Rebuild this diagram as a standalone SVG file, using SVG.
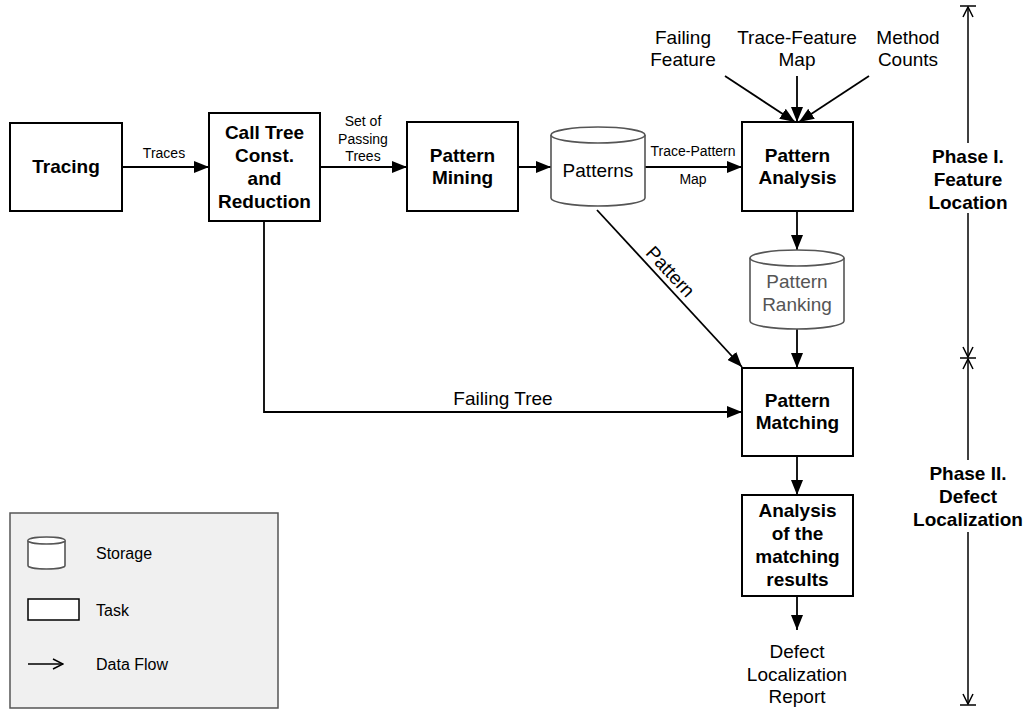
<svg xmlns="http://www.w3.org/2000/svg" width="1027" height="709" viewBox="0 0 1027 709">
  <style>
    .box { fill: #ffffff; stroke: #000000; stroke-width: 2; }
    .store { fill: #ffffff; stroke: #555555; stroke-width: 1.6; }
    .edge { fill: none; stroke: #000000; stroke-width: 1.8; }
    .thin { fill: none; stroke: #000000; stroke-width: 1.5; }
    text { font-family: "Liberation Sans", Arial, sans-serif; fill: #000000; text-anchor: middle; }
    .b { font-size: 19px; font-weight: bold; }
    .r { font-size: 19px; }
    .s { font-size: 14px; }
    .g { fill: #555555; }
    .l { text-anchor: start; font-size: 16px; }
  </style>
  <defs>
    <marker id="arrow" viewBox="0 0 15 12" refX="15" refY="6" markerWidth="15" markerHeight="12" markerUnits="userSpaceOnUse" orient="auto">
      <path d="M0,0 L15,6 L0,12 z" fill="#000000"/>
    </marker>
    <marker id="open" viewBox="0 0 12 12" refX="11" refY="6" markerWidth="12" markerHeight="12" markerUnits="userSpaceOnUse" orient="auto">
      <path d="M1,1 L11,6 L1,11" fill="none" stroke="#000000" stroke-width="1.5"/>
    </marker>
  </defs>

  <!-- data flow connectors -->
  <g id="connectors">
    <line class="edge" x1="122" y1="167" x2="209" y2="167" marker-end="url(#arrow)"/>
    <line class="edge" x1="320" y1="167" x2="407" y2="167" marker-end="url(#arrow)"/>
    <line class="edge" x1="518" y1="167" x2="551" y2="167" marker-end="url(#arrow)"/>
    <line class="edge" x1="645" y1="167" x2="742" y2="167" marker-end="url(#arrow)"/>
    <line class="edge" x1="725" y1="76" x2="795" y2="122" marker-end="url(#arrow)"/>
    <line class="edge" x1="797" y1="76" x2="797" y2="122" marker-end="url(#arrow)"/>
    <line class="edge" x1="869" y1="76" x2="799" y2="122" marker-end="url(#arrow)"/>
    <line class="edge" x1="797" y1="211" x2="797" y2="250" marker-end="url(#arrow)"/>
    <line class="edge" x1="797" y1="329" x2="797" y2="368" marker-end="url(#arrow)"/>
    <line class="edge" x1="597" y1="210" x2="742" y2="367" marker-end="url(#arrow)"/>
    <polyline class="edge" points="264,221 264,412 742,412" marker-end="url(#arrow)"/>
    <line class="edge" x1="797" y1="456" x2="797" y2="495" marker-end="url(#arrow)"/>
    <line class="edge" x1="797" y1="596" x2="797" y2="630" marker-end="url(#arrow)"/>

    <text class="s" x="164" y="158">Traces</text>
    <text class="s" x="363" y="126">Set of</text>
    <text class="s" x="363" y="144">Passing</text>
    <text class="s" x="363" y="161">Trees</text>
    <text class="s" x="693" y="156">Trace-Pattern</text>
    <text class="s" x="693" y="184">Map</text>
    <text class="r" x="503" y="405">Failing Tree</text>
    <text class="r" transform="translate(670,272) rotate(47.3)" y="6">Pattern</text>
  </g>

  <!-- inputs to pattern analysis -->
  <g id="inputs">
    <text class="r" x="683" y="44">Failing</text>
    <text class="r" x="683" y="66">Feature</text>
    <text class="r" x="797" y="44">Trace-Feature</text>
    <text class="r" x="797" y="66">Map</text>
    <text class="r" x="908" y="44">Method</text>
    <text class="r" x="908" y="66">Counts</text>
  </g>

  <g id="tracing">
    <rect class="box" x="10" y="123" width="112" height="88"/>
    <text class="b" x="66" y="173">Tracing</text>
  </g>

  <g id="call-tree">
    <rect class="box" x="209" y="113" width="111" height="108"/>
    <text class="b" x="264.5" y="139">Call Tree</text>
    <text class="b" x="264.5" y="162">Const.</text>
    <text class="b" x="264.5" y="185">and</text>
    <text class="b" x="264.5" y="208">Reduction</text>
  </g>

  <g id="pattern-mining">
    <rect class="box" x="407" y="122" width="111" height="89"/>
    <text class="b" x="462.5" y="162">Pattern</text>
    <text class="b" x="462.5" y="184">Mining</text>
  </g>

  <g id="patterns">
    <path class="store" d="M551,135 A47,8 0 0 1 645,135 V198 A47,8 0 0 1 551,198 Z"/>
    <path class="store" d="M551,135 A47,8 0 0 0 645,135"/>
    <text class="r" x="598" y="177">Patterns</text>
  </g>

  <g id="pattern-analysis">
    <rect class="box" x="742" y="122" width="111" height="89"/>
    <text class="b" x="797.5" y="162">Pattern</text>
    <text class="b" x="797.5" y="184">Analysis</text>
  </g>

  <g id="pattern-ranking">
    <path class="store" d="M750,258 A47,8 0 0 1 844,258 V321 A47,8 0 0 1 750,321 Z"/>
    <path class="store" d="M750,258 A47,8 0 0 0 844,258"/>
    <text class="r g" x="797" y="288">Pattern</text>
    <text class="r g" x="797" y="311">Ranking</text>
  </g>

  <g id="pattern-matching">
    <rect class="box" x="742" y="368" width="111" height="88"/>
    <text class="b" x="797.5" y="407">Pattern</text>
    <text class="b" x="797.5" y="429">Matching</text>
  </g>

  <g id="analysis-results">
    <rect class="box" x="742" y="495" width="111" height="101"/>
    <text class="b" x="797.5" y="517">Analysis</text>
    <text class="b" x="797.5" y="540">of the</text>
    <text class="b" x="797.5" y="563">matching</text>
    <text class="b" x="797.5" y="586">results</text>
  </g>

  <g id="report">
    <text class="r" x="797" y="658">Defect</text>
    <text class="r" x="797" y="681">Localization</text>
    <text class="r" x="797" y="703">Report</text>
  </g>

  <!-- phase ranges -->
  <g id="phase-1">
    <line class="thin" x1="960" y1="6" x2="976" y2="6"/>
    <line class="thin" x1="968" y1="143" x2="968" y2="7" marker-end="url(#open)"/>
    <line class="thin" x1="968" y1="213" x2="968" y2="357" marker-end="url(#open)"/>
    <text class="b" x="968" y="163">Phase I.</text>
    <text class="b" x="968" y="186">Feature</text>
    <text class="b" x="968" y="209">Location</text>
  </g>

  <g id="phase-2">
    <line class="thin" x1="960" y1="358" x2="976" y2="358"/>
    <line class="thin" x1="968" y1="460" x2="968" y2="359" marker-end="url(#open)"/>
    <line class="thin" x1="968" y1="532" x2="968" y2="704" marker-end="url(#open)"/>
    <line class="thin" x1="960" y1="705" x2="976" y2="705"/>
    <text class="b" x="968" y="480">Phase II.</text>
    <text class="b" x="968" y="503">Defect</text>
    <text class="b" x="968" y="526">Localization</text>
  </g>

  <!-- legend -->
  <g id="legend">
    <rect x="10" y="513" width="268" height="195" fill="#f0f0f0" stroke="#555555" stroke-width="1.5"/>
    <path class="store" d="M28,540.5 A18.5,3.5 0 0 1 65,540.5 V565.5 A18.5,3.5 0 0 1 28,565.5 Z"/>
    <path class="store" d="M28,540.5 A18.5,3.5 0 0 0 65,540.5"/>
    <text class="l" x="96" y="559">Storage</text>
    <rect x="28" y="599" width="51" height="21" fill="#ffffff" stroke="#000000" stroke-width="1.5"/>
    <text class="l" x="96" y="616">Task</text>
    <line class="thin" x1="28" y1="664" x2="63" y2="664" marker-end="url(#open)"/>
    <text class="l" x="96" y="670">Data Flow</text>
  </g>
</svg>
